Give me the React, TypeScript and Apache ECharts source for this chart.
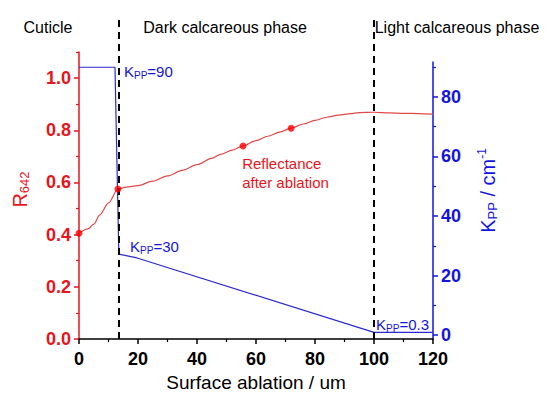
import React, { useEffect, useRef } from "react";
import * as echarts from "echarts";

// ---- data ----
const reflectanceX = [0, 3, 5, 7, 10, 13.2, 16, 20, 25, 30, 35, 40, 45, 48, 52, 55.6, 60, 64, 68, 71.9, 76, 80, 84, 88, 92, 95, 100, 105, 110, 115, 120];
const reflectanceY = [0.405, 0.422, 0.44, 0.475, 0.522, 0.575, 0.582, 0.588, 0.605, 0.625, 0.646, 0.668, 0.692, 0.708, 0.724, 0.74, 0.76, 0.777, 0.793, 0.808, 0.824, 0.838, 0.85, 0.858, 0.864, 0.868, 0.869, 0.867, 0.865, 0.864, 0.862];
const measuredX = [0, 13.2, 55.6, 71.9];
const measuredY = [0.405, 0.575, 0.74, 0.808];
const kppX = [0, 12.2, 13.5, 19.7, 100, 120];
const kppY = [90, 90, 27.2, 25.9, 0.9, 0.9];
const xMajorTicks = [0, 20, 40, 60, 80, 100, 120];
const leftMajorTicks = [0, 0.2, 0.4, 0.6, 0.8, 1.0];
const leftMinorTicks = [0.1, 0.3, 0.5, 0.7, 0.9, 1.1];
const rightMajorTicks = [0, 20, 40, 60, 80];
const rightMinorTicks = [10, 30, 50, 70, 90];
const phaseBoundaries = [13.5, 100];
const phaseNames = ["Cuticle", "Dark calcareous phase", "Light calcareous phase"];
const kppLabels = ["90", "30", "0.3"];
const kppLabelAt = [
  [15.25, 88.7],
  [17.3, 29.6],
  [100.7, 3.4],
];
const reflectanceLabel = "Reflectance\nafter ablation";
const reflectanceLabelAt = [55.3, 0.638];

const FONT = "'Liberation Sans', Arial, Helvetica, sans-serif";
const RED = "#e8141c";
const RED_LINE = "#e04848";
const BLUE = "#1414e0";
const BLUE_LINE = "#2a2ad2";

export default function App() {
  const ref = useRef<HTMLDivElement>(null);

  useEffect(() => {
    if (!ref.current) return;
    const chart = echarts.init(ref.current, undefined, { renderer: "svg" });

    const gridBase = { left: 79, right: 127, bottom: 55, containLabel: false, outerBoundsMode: "none" };

    const option: any = {
      animation: false,
      backgroundColor: "#ffffff",
      grid: [
        { ...gridBase, top: 52 },
        { ...gridBase, top: 62 },
        { ...gridBase, top: 18 },
      ],
      xAxis: [
        {
          type: "value",
          gridIndex: 0,
          min: 0,
          max: 120,
          interval: 20,
          axisLine: { onZero: false, lineStyle: { color: "#000", width: 1.5 } },
          axisTick: { length: 5, lineStyle: { color: "#000", width: 1.5 } },
          minorTick: { show: true, splitNumber: 2, length: 3, lineStyle: { color: "#000", width: 1.2 } },
          splitLine: { show: false },
          axisLabel: {
            color: "#000",
            fontWeight: "bold",
            fontSize: 18,
            fontFamily: FONT,
            margin: 11,
            customValues: xMajorTicks,
          },
          name: "Surface ablation / um",
          nameLocation: "middle",
          nameGap: 34,
          nameTextStyle: { color: "#000", fontSize: 19, fontFamily: FONT },
        },
        { type: "value", gridIndex: 1, min: 0, max: 120, show: false },
        { type: "value", gridIndex: 2, min: 0, max: 120, show: false },
      ],
      yAxis: [
        {
          type: "value",
          gridIndex: 0,
          position: "left",
          min: 0,
          max: 1.1,
          axisLine: { show: true, onZero: false, lineStyle: { color: RED, width: 1.5 } },
          axisTick: { show: true, length: 5, customValues: leftMajorTicks, lineStyle: { color: RED, width: 1.5 } },
          splitLine: { show: false },
          axisLabel: {
            customValues: leftMajorTicks,
            formatter: (v: number) => v.toFixed(1),
            color: RED,
            fontWeight: "bold",
            fontSize: 18,
            fontFamily: FONT,
            margin: 8,
          },
          name: "{r|R}{s|642}",
          nameLocation: "middle",
          nameRotate: 90,
          nameGap: 48,
          nameTextStyle: {
            padding: [0, 0, 0, 12],
            rich: {
              r: { fontSize: 20, color: RED, fontFamily: FONT, lineHeight: 22 },
              s: { fontSize: 13, color: RED, fontFamily: FONT, lineHeight: 13, verticalAlign: "bottom" },
            },
          },
        },
        {
          type: "value",
          gridIndex: 0,
          position: "left",
          min: 0,
          max: 1.1,
          axisLine: { show: false, onZero: false },
          axisTick: { show: true, length: 3, customValues: leftMinorTicks, lineStyle: { color: RED, width: 1.2 } },
          axisLabel: { show: false },
          splitLine: { show: false },
        },
        {
          type: "value",
          gridIndex: 1,
          position: "right",
          min: -1.34,
          max: 91.76,
          axisLine: { show: true, onZero: false, lineStyle: { color: BLUE, width: 1.5 } },
          axisTick: { show: true, length: 5, customValues: rightMajorTicks, lineStyle: { color: BLUE, width: 1.5 } },
          splitLine: { show: false },
          axisLabel: {
            customValues: rightMajorTicks,
            color: BLUE,
            fontWeight: "bold",
            fontSize: 18,
            fontFamily: FONT,
            margin: 8,
          },
          name: "{k|K}{s|PP}{k| / cm}{p|-1}",
          nameLocation: "middle",
          nameRotate: 90,
          nameGap: 43,
          nameTextStyle: {
            padding: [0, 0, 0, 20],
            rich: {
              k: { fontSize: 20, color: BLUE, fontFamily: FONT, lineHeight: 23 },
              s: { fontSize: 13, color: BLUE, fontFamily: FONT, lineHeight: 13, verticalAlign: "bottom" },
              p: { fontSize: 12, color: BLUE, fontFamily: FONT, lineHeight: 12, verticalAlign: "top" },
            },
          },
        },
        {
          type: "value",
          gridIndex: 1,
          position: "right",
          min: -1.34,
          max: 91.76,
          axisLine: { show: false, onZero: false },
          axisTick: { show: true, length: 3, customValues: rightMinorTicks, lineStyle: { color: BLUE, width: 1.2 } },
          axisLabel: { show: false },
          splitLine: { show: false },
        },
        { type: "value", gridIndex: 2, min: 0, max: 1, show: false },
      ],
      graphic: [
        {
          type: "text",
          x: 48,
          y: 27,
          style: { text: phaseNames[0], fontSize: 16, fontFamily: FONT, fill: "#000", align: "center", verticalAlign: "middle" },
        },
        {
          type: "text",
          x: 225,
          y: 27,
          style: { text: phaseNames[1], fontSize: 16, fontFamily: FONT, fill: "#000", align: "center", verticalAlign: "middle" },
        },
        {
          type: "text",
          x: 457,
          y: 27,
          style: { text: phaseNames[2], fontSize: 16, fontFamily: FONT, fill: "#000", align: "center", verticalAlign: "middle" },
        },
      ],
      series: [
        {
          type: "line",
          xAxisIndex: 2,
          yAxisIndex: 4,
          data: [],
          silent: true,
          z: 5,
          markLine: {
            silent: true,
            symbol: "none",
            label: { show: false },
            lineStyle: { color: "#000", width: 2, type: [7, 5] },
            data: phaseBoundaries.map((x) => ({ xAxis: x })),
          },
        },
        {
          name: "Reflectance",
          type: "line",
          xAxisIndex: 0,
          yAxisIndex: 0,
          smooth: 0.3,
          smoothMonotone: "x",
          showSymbol: false,
          lineStyle: { color: RED_LINE, width: 1.2 },
          data: reflectanceX.map((x, i) => [x, reflectanceY[i]]),
          z: 3,
          markPoint: {
            symbol: "circle",
            symbolSize: 0,
            silent: true,
            itemStyle: { color: "transparent" },
            label: {
              show: true,
              position: [0, 0],
              align: "left",
              verticalAlign: "middle",
              color: RED,
              fontSize: 15,
              lineHeight: 19,
              fontFamily: FONT,
              formatter: () => reflectanceLabel,
            },
            data: [{ coord: reflectanceLabelAt }],
          },
        },
        {
          name: "Measured",
          type: "scatter",
          xAxisIndex: 0,
          yAxisIndex: 0,
          symbolSize: 7,
          itemStyle: { color: "#ff0000" },
          data: measuredX.map((x, i) => [x, measuredY[i]]),
          z: 6,
        },
        {
          name: "Kpp",
          type: "line",
          xAxisIndex: 1,
          yAxisIndex: 2,
          showSymbol: false,
          lineStyle: { color: BLUE_LINE, width: 1.2 },
          data: kppX.map((x, i) => [x, kppY[i]]),
          z: 4,
          markPoint: {
            symbol: "circle",
            symbolSize: 0,
            silent: true,
            itemStyle: { color: "transparent" },
            label: {
              show: true,
              position: [0, 0],
              align: "left",
              verticalAlign: "middle",
              rich: {
                k: { fontSize: 15, color: BLUE, fontFamily: FONT, lineHeight: 18 },
                s: { fontSize: 10, color: BLUE, fontFamily: FONT, lineHeight: 10, verticalAlign: "bottom" },
              },
            },
            data: kppLabels.map((t, i) => ({
              coord: kppLabelAt[i],
              label: { formatter: "{k|K}{s|PP}{k|=" + t + "}" },
            })),
          },
        },
      ],
    };

    chart.setOption(option);
    return () => chart.dispose();
  }, []);

  return (
    <div
      ref={ref}
      style={{ position: "absolute", left: 0, top: 0, width: 560, height: 394, background: "#fff" }}
    />
  );
}
